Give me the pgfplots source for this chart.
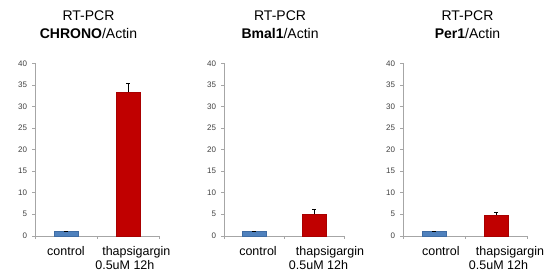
\documentclass[border=0pt]{standalone}
\usepackage{fontspec}
\setmainfont{Liberation Sans}
\usepackage{pgfplots}
\pgfplotsset{compat=1.18}
\definecolor{barblue}{HTML}{4F81BD}
\definecolor{barblueedge}{HTML}{3F6CA3}
\definecolor{barred}{HTML}{C00000}
\definecolor{barrededge}{HTML}{A80000}
\definecolor{axgray}{HTML}{A6A6A6}
\definecolor{ticktext}{HTML}{404040}

\pgfplotsset{
  panel/.style={
    scale only axis, height=172.5pt, anchor=south west,
    xmin=-0.5, xmax=1.5, ymin=0, ymax=40, ytick={0,5,...,40},
    axis x line=bottom, axis y line=left,
    axis line style={-, draw=axgray, line width=0.6pt},
    tick align=outside, major tick length=3pt,
    y tick style={draw=axgray, line width=0.5pt},
    x tick style={draw=none},
    yticklabel style={font=\fontsize{8}{9.5}\selectfont, text=ticktext, xshift=-1.5pt},
    /pgf/number format/assume math mode=true,
    xticklabel style={font=\fontsize{12.5}{14.5}\selectfont, align=center, text=black, yshift=-4pt},
    extra x ticks={-0.5,0.5,1.5}, extra x tick labels={},
    extra x tick style={x tick style={draw=axgray, line width=0.5pt}},
    title style={font=\fontsize{14}{18}\selectfont, align=center, anchor=south, inner sep=0pt, yshift=18pt},
    clip=false,
  },
  ctrl/.style={ybar, bar shift=0pt, bar width=24pt, fill=barblue, draw=barblueedge, line width=0.4pt,
    error bars/.cd, y dir=plus, y explicit,
    error bar style={black, line width=0.5pt},
    error mark options={rotate=90, mark size=2pt, black, line width=0.5pt}},
  trt/.style={ybar, bar shift=0pt, bar width=24pt, fill=barred, draw=barrededge, line width=0.4pt,
    error bars/.cd, y dir=plus, y explicit,
    error bar style={black, line width=0.5pt},
    error mark options={rotate=90, mark size=2pt, black, line width=0.5pt}},
}

\begin{document}
\begin{tikzpicture}[x=1pt,y=1pt]
\useasboundingbox (0,0) rectangle (552,277);

% Panel 1: CHRONO
\begin{axis}[panel, width=124pt, at={(35pt,41.2pt)},
  title={RT-PCR\\\textbf{CHRONO}/Actin},
  title style={at={(axis description cs:0.431,1)}},
  xtick={0,1.135},
  xticklabels={control, thapsigargin\\0.5uM 12h\rule{23pt}{0pt}}]
\addplot[ctrl] coordinates {(0,1.0) +- (0,0.1)};
\addplot[trt] coordinates {(1,33.4) +- (0,2.0)};
\end{axis}

% Panel 2: Bmal1
\begin{axis}[panel, width=120pt, at={(224pt,41.2pt)},
  title={RT-PCR\\\textbf{Bmal1}/Actin},
  title style={at={(axis description cs:0.467,1)}},
  xtick={0.067,1.267},
  xticklabels={control, thapsigargin\\0.5uM 12h\rule{23pt}{0pt}}]
\addplot[ctrl] coordinates {(0,1.0) +- (0,0.1)};
\addplot[trt] coordinates {(1,4.95) +- (0,1.15)};
\end{axis}

% Panel 3: Per1
\begin{axis}[panel, width=124pt, at={(403pt,41.2pt)},
  title={RT-PCR\\\textbf{Per1}/Actin},
  title style={at={(axis description cs:0.52,1)}},
  xtick={0.11,1.226},
  xticklabels={control, thapsigargin\\0.5uM 12h\rule{23pt}{0pt}}]
\addplot[ctrl] coordinates {(0,1.0) +- (0,0.1)};
\addplot[trt] coordinates {(1,4.85) +- (0,0.6)};
\end{axis}
\end{tikzpicture}
\end{document}
